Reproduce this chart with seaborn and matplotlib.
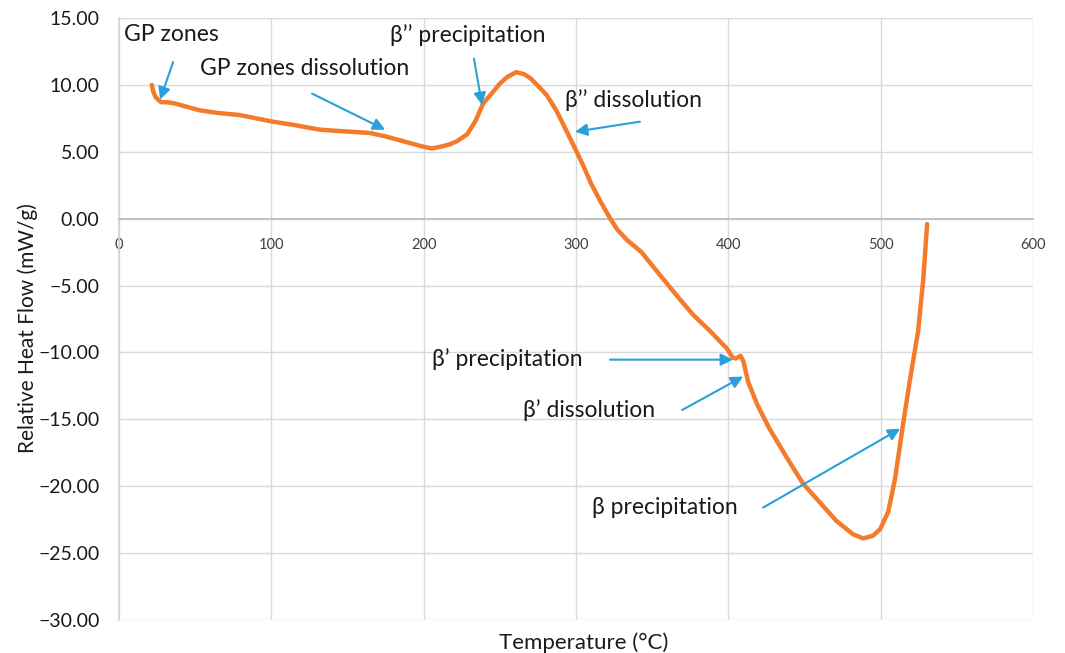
import numpy as np
import pandas as pd
import matplotlib
matplotlib.use("Agg")
import matplotlib.pyplot as plt
import seaborn as sns
from matplotlib.ticker import FuncFormatter, MultipleLocator

temperature = [21.5, 22.5, 24, 26, 28, 32, 37, 45, 53, 65, 79, 90, 101, 115, 132, 145,
               152, 165, 175, 183, 191, 199, 205.5, 212, 217, 222, 228.5, 234, 239, 245,
               250, 255, 260.7, 266, 270, 274.5, 281, 287.5, 294, 300, 305, 310, 316, 322,
               327, 333.5, 343, 355, 368, 377, 388, 399, 403, 405, 408, 410, 413, 419,
               427, 438.6, 449, 460, 471, 482, 488.5, 495, 499.7, 505, 509.5, 514, 519,
               524.6, 528, 530.5]
heat_flow = [10.0, 9.5, 9.1, 8.85, 8.7, 8.7, 8.6, 8.35, 8.1, 7.9, 7.75, 7.5, 7.25, 7.0, 6.65, 6.55,
             6.5, 6.4, 6.15, 5.9, 5.65, 5.4, 5.25, 5.4, 5.55, 5.8, 6.3, 7.3, 8.6, 9.4,
             10.1, 10.6, 10.95, 10.8, 10.5, 10.0, 9.2, 8.0, 6.5, 5.1, 3.9, 2.6, 1.3, 0.1,
             -0.8, -1.6, -2.5, -4.2, -6.0, -7.2, -8.4, -9.7, -10.4, -10.45, -10.25, -10.7, -12.2, -13.9,
             -15.7, -17.9, -19.8, -21.2, -22.6, -23.6, -23.9, -23.7, -23.2, -21.9, -19.4, -15.9, -12.2,
             -8.4, -4.5, -0.4]

# annotations: label, text position, arrow tail, arrow head
ann_labels = ["GP zones", "GP zones dissolution", "β’’ precipitation", "β’’ dissolution",
              "β’ precipitation", "β’ dissolution", "β precipitation"]
ann_text_xy = [(3, 13.75), (53, 11.2), (178, 13.75), (293, 8.9),
               (205.5, -10.5), (265, -14.3), (310.6, -21.6)]
ann_tail_xy = [(35.5, 11.7), (126.7, 9.35), (233, 11.96), (342, 7.25),
               (322.4, -10.54), (369.7, -14.3), (422.8, -21.6)]
ann_head_xy = [(27, 8.9), (174.7, 6.65), (238.3, 8.5), (299.4, 6.5),
               (403, -10.54), (409.7, -11.8), (512.8, -15.7)]

sns.set_theme(style="white")
plt.rcParams['font.family'] = ['Lato', 'DejaVu Serif']

fig = plt.figure(figsize=(10.65, 6.53), dpi=100)
ax = fig.add_axes([119/1065, 1-620/653, (1033-119)/1065, (620-18)/653])

df = pd.DataFrame({"Temperature": temperature, "HeatFlow": heat_flow})
sns.lineplot(data=df, x="Temperature", y="HeatFlow", ax=ax, color="#f57b2c",
             linewidth=3.2, sort=False, estimator=None, zorder=5)

ax.set_xlim(0, 600)
ax.set_ylim(-30, 15)
ax.xaxis.set_major_locator(MultipleLocator(100))
ax.yaxis.set_major_locator(MultipleLocator(5))
ax.grid(True, color="#d9d9d9", linewidth=1.0)
ax.set_axisbelow(True)

for s in ["top", "right"]:
    ax.spines[s].set_visible(False)
ax.spines["left"].set_color("#d4d4d4")
ax.spines["left"].set_linewidth(1.2)
ax.spines["bottom"].set_position(("data", 0))
ax.spines["bottom"].set_color("#bfbfbf")
ax.spines["bottom"].set_linewidth(1.3)

ax.yaxis.set_major_formatter(FuncFormatter(lambda v, p: f"{v:.2f}".replace("-", "−")))
ax.tick_params(axis="y", length=0, pad=14, labelsize=14, labelcolor="#1a1a1a")
ax.tick_params(axis="x", length=0, pad=14, labelsize=10.5, labelcolor="#404040")

ax.set_xlabel("")
ax.set_ylabel("")
ax.text(0.508, -0.037, "Temperature (°C)", transform=ax.transAxes, ha="center", va="center",
        fontsize=16, color="#1a1a1a")
ax.text(-0.1, 0.485, "Relative Heat Flow (mW/g)", transform=ax.transAxes, ha="center", va="center",
        rotation=90, fontsize=15, color="#1a1a1a")

arrow_color = "#2a9fd9"
for lab, txy, tail, head in zip(ann_labels, ann_text_xy, ann_tail_xy, ann_head_xy):
    ax.text(txy[0], txy[1], lab, ha="left", va="center", fontsize=16.5, color="#1a1a1a", zorder=6)
    ax.annotate("", xy=head, xytext=tail,
                arrowprops=dict(arrowstyle="-|>", color=arrow_color, lw=1.5,
                                mutation_scale=18, shrinkA=0, shrinkB=0), zorder=6)

fig.savefig("out.png", dpi=100)
